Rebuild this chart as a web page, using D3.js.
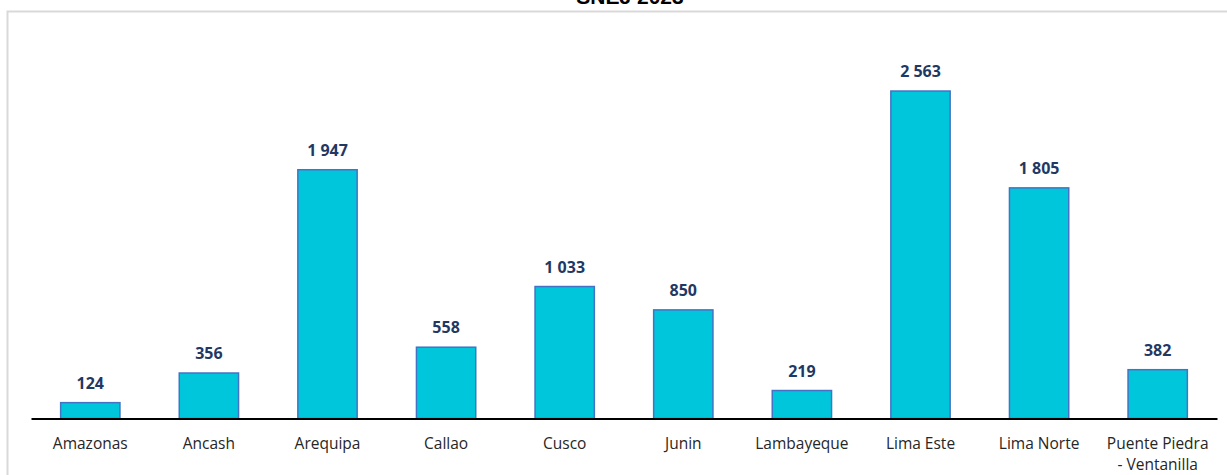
<!DOCTYPE html>
<html>
<head>
<meta charset="utf-8">
<script src="https://cdn.jsdelivr.net/npm/d3@7"></script>
<style>
html,body{margin:0;padding:0;background:#fff;}
svg{display:block;}
</style>
</head>
<body>
<svg id="chart" width="1227" height="475"></svg>
<script>
const titleText = "SNEJ 2023";
const categories = ["Amazonas","Ancash","Arequipa","Callao","Cusco","Junin","Lambayeque","Lima Este","Lima Norte","Puente Piedra - Ventanilla"];
const categoryLines = [["Amazonas"],["Ancash"],["Arequipa"],["Callao"],["Cusco"],["Junin"],["Lambayeque"],["Lima Este"],["Lima Norte"],["Puente Piedra","- Ventanilla"]];
const values = [124,356,1947,558,1033,850,219,2563,1805,382];

const svg = d3.select("#chart");

// frame
svg.append("path")
  .attr("d", "M7.5,475 L7.5,11.5 L1227,11.5")
  .attr("fill","none").attr("stroke","#d9d9d9").attr("stroke-width",2);

// title (clipped at top, as in the reference)
svg.append("text")
  .attr("x", 630).attr("y", 4)
  .attr("text-anchor","middle")
  .attr("font-family","'Liberation Sans', Arial, sans-serif")
  .attr("font-weight","bold").attr("font-size",21)
  .attr("fill","#000")
  .text(titleText);

const x = d3.scaleBand().domain(categories).range([31, 1217]).paddingInner(0.5).paddingOuter(0.25);
const y = d3.scaleLinear().domain([0, 3000]).range([418.5, 35.2]);

const loc = d3.formatLocale({decimal:",", thousands:"\u00a0", grouping:[3], currency:["",""]});
const fmt = loc.format(",d");

const g = svg.append("g");
g.selectAll("rect.bar").data(values).join("rect")
  .attr("class","bar")
  .attr("x",(d,i)=>x(categories[i]))
  .attr("y",d=>y(d))
  .attr("width",x.bandwidth())
  .attr("height",d=>y(0)-y(d))
  .attr("fill","#00C6DC")
  .attr("stroke","#4472C4")
  .attr("stroke-width",1.5);

g.selectAll("text.val").data(values).join("text")
  .attr("class","val")
  .attr("x",(d,i)=>x(categories[i])+x.bandwidth()/2)
  .attr("y",d=>y(d)-14)
  .attr("text-anchor","middle")
  .attr("font-family","'Open Sans', 'Liberation Sans', sans-serif")
  .attr("font-weight","bold").attr("font-size",16)
  .attr("fill","#1F3864")
  .text(d=>fmt(d));

// x axis
const xAxis = d3.axisBottom(x).tickSize(0).tickFormat("");
const ax = svg.append("g").attr("transform",`translate(0,${y(0)})`).call(xAxis);
ax.select(".domain").attr("stroke","#000").attr("stroke-width",2);

const lab = svg.append("g");
categories.forEach((c,i)=>{
  const t = lab.append("text")
    .attr("x", x(c)+x.bandwidth()/2)
    .attr("y", 449)
    .attr("text-anchor","middle")
    .attr("font-family","'Open Sans', 'Liberation Sans', sans-serif")
    .attr("font-size",15.5)
    .attr("fill","#262626");
  categoryLines[i].forEach((ln,j)=>{
    t.append("tspan").attr("x", x(c)+x.bandwidth()/2).attr("dy", j===0?0:21).text(ln);
  });
});
</script>
</body>
</html>
